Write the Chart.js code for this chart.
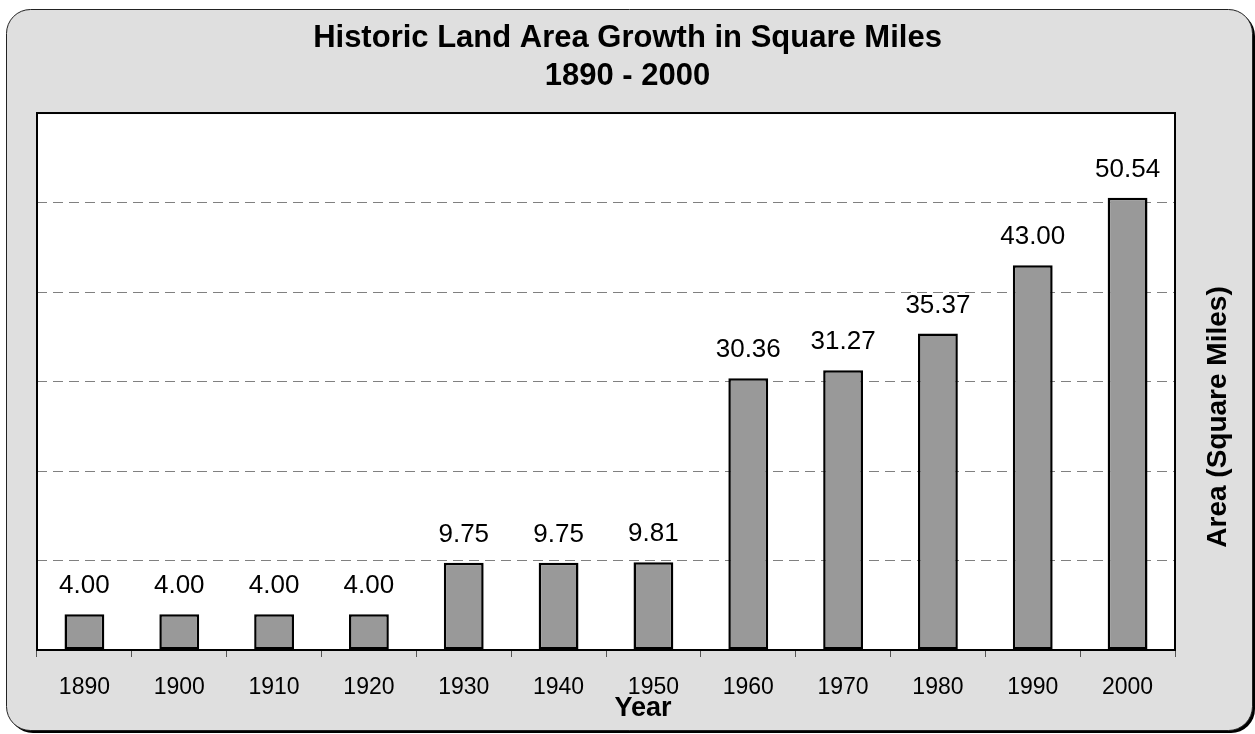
<!DOCTYPE html>
<html>
<head>
<meta charset="utf-8">
<title>Historic Land Area Growth</title>
<script src="https://cdn.jsdelivr.net/npm/chart.js@4/dist/chart.umd.min.js"></script>
<style>
    html, body { margin: 0; padding: 0; background: #ffffff; }
    #wrap { width: 1255px; height: 734px; }
</style>
</head>
<body>
<div id="wrap"><canvas id="landChart" width="1255" height="734"></canvas></div>
<script>
    'use strict';

    // Chart data
    var years = ['1890', '1900', '1910', '1920', '1930', '1940', '1950', '1960', '1970', '1980', '1990', '2000'];
    var areaSqMiles = [4.00, 4.00, 4.00, 4.00, 9.75, 9.75, 9.81, 30.36, 31.27, 35.37, 43.00, 50.54];
    var titleLines = ['Historic Land Area Growth in Square Miles', '1890 - 2000'];
    var xTitle = 'Year';
    var yTitle = 'Area (Square Miles)';
    var yMax = 60;
    var yStep = 10;

    var FONT = 'Arial, "Liberation Sans", Helvetica, sans-serif';

    /**
     * Rounded gray panel behind the chart
     */
    var panelPlugin = {
        id: 'panel',
        beforeDraw: function(chart) {
            var ctx = chart.ctx;
            var x = 6.5, y = 9.5, w = 1246, h = 721, r = 24;

            ctx.save();
            ctx.fillStyle = '#ffffff';
            ctx.fillRect(0, 0, chart.width, chart.height);

            // shadow
            ctx.fillStyle = '#000000';
            ctx.beginPath();
            ctx.roundRect(x + 2.5, y + 2.5, w, h, r);
            ctx.fill();

            ctx.fillStyle = '#dfdfdf';
            ctx.strokeStyle = '#222222';
            ctx.lineWidth = 1;
            ctx.beginPath();
            ctx.roundRect(x, y, w, h, r);
            ctx.fill();
            ctx.stroke();

            // white plot area
            var a = chart.chartArea;
            ctx.fillStyle = '#ffffff';
            ctx.fillRect(a.left, a.top, a.right - a.left, a.bottom - a.top);
            ctx.restore();
        }
    };

    /**
     * Plot border, value labels and axis titles
     */
    var decorPlugin = {
        id: 'decor',
        afterDatasetsDraw: function(chart) {
            var ctx = chart.ctx;
            var a = chart.chartArea;
            var meta = chart.getDatasetMeta(0);

            ctx.save();

            ctx.strokeStyle = '#000000';
            ctx.lineWidth = 2;
            ctx.strokeRect(a.left, a.top, a.right - a.left, a.bottom - a.top);

            ctx.fillStyle = '#000000';
            ctx.font = '26px ' + FONT;
            ctx.textAlign = 'center';
            ctx.textBaseline = 'middle';
            meta.data.forEach(function(bar, i) {
                ctx.fillText(areaSqMiles[i].toFixed(2), bar.x, bar.y - 28);
            });

            ctx.font = 'bold 27px ' + FONT;
            ctx.fillText(xTitle, 643, 709);

            ctx.translate(1218, 417);
            ctx.rotate(-Math.PI / 2);
            ctx.font = 'bold 28px ' + FONT;
            ctx.fillText(yTitle, 0, 0);

            ctx.restore();
        }
    };

    new Chart(document.getElementById('landChart'), {
        type: 'bar',
        data: {
            labels: years,
            datasets: [{
                label: 'Area',
                data: areaSqMiles,
                backgroundColor: '#999999',
                borderColor: '#000000',
                borderWidth: 2.5,
                borderSkipped: false,
                barPercentage: 0.42,
                categoryPercentage: 1
            }]
        },
        options: {
            responsive: false,
            animation: false,
            layout: {
                padding: { left: 37, right: 37, top: 0, bottom: 0 }
            },
            plugins: {
                legend: { display: false },
                tooltip: { enabled: false },
                title: {
                    display: true,
                    text: titleLines,
                    color: '#000000',
                    font: { family: FONT, size: 31, weight: 'bold', lineHeight: 1.21 },
                    padding: { top: 20, bottom: 18 }
                }
            },
            scales: {
                x: {
                    grid: {
                        offset: true,
                        drawOnChartArea: false,
                        drawTicks: true,
                        tickLength: 7,
                        color: '#555555'
                    },
                    border: { display: false },
                    ticks: {
                        color: '#000000',
                        font: { family: FONT, size: 23 },
                        padding: 17,
                        maxRotation: 0,
                        autoSkip: false
                    },
                    afterFit: function(scale) {
                        scale.height = 84;
                    }
                },
                y: {
                    position: 'right',
                    min: 0,
                    max: yMax,
                    grid: {
                        color: '#808080',
                        lineWidth: 1,
                        drawTicks: false
                    },
                    border: { display: false, dash: [10, 6] },
                    ticks: {
                        display: false,
                        stepSize: yStep
                    },
                    afterFit: function(scale) {
                        scale.width = 43;
                    }
                }
            }
        },
        plugins: [panelPlugin, decorPlugin]
    });
</script>
</body>
</html>
